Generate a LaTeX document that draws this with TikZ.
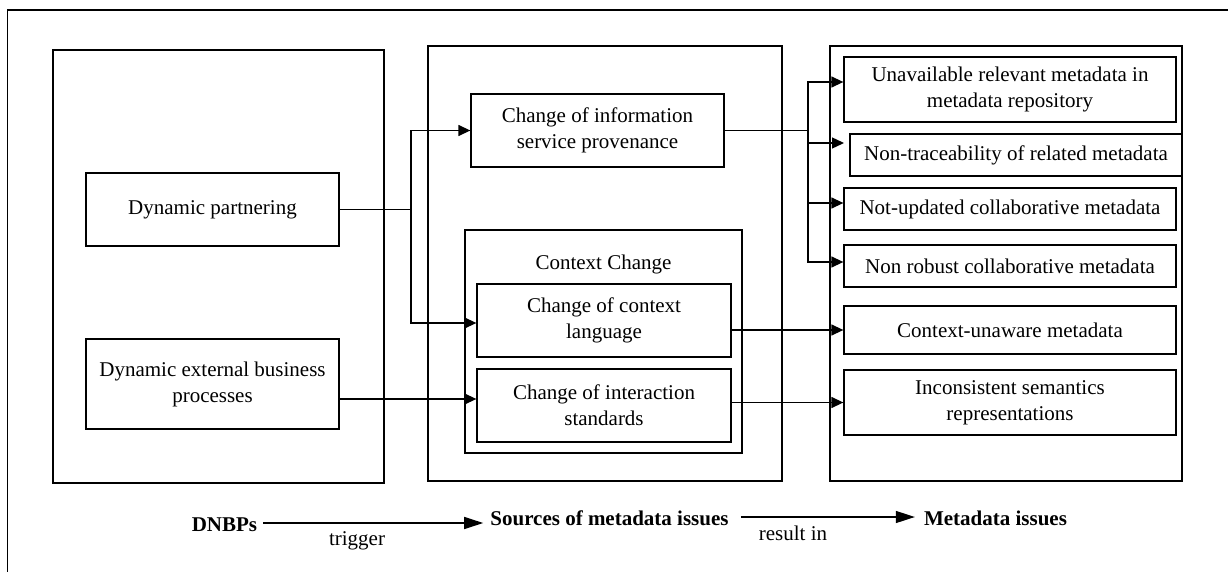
\documentclass[tikz,border=0pt]{standalone}
\usepackage{fontspec}
\setmainfont{Liberation Serif}
\usetikzlibrary{arrows.meta}
\tikzset{
  lbl/.style={font=\fontsize{21}{26}\selectfont, inner sep=0pt},
  box/.style={lbl, draw, line width=1.3pt, align=center, anchor=center},
  panel/.style={draw, line width=1.3pt, inner sep=0pt, anchor=center},
  wire/.style={line width=1.3pt},
  arr/.style={wire, -{Triangle[length=12pt,width=11pt]}},
  arrL/.style={wire, -{Triangle[length=19pt,width=12pt]}},
  key/.style={lbl, font=\fontsize{21}{26}\selectfont\bfseries, anchor=base},
  verb/.style={lbl, anchor=base}
}
\begin{document}
\begin{tikzpicture}[x=1pt,y=-1pt]
\useasboundingbox (0,0) rectangle (1228,572);

% enclosing frame (left and top edges)
\draw[wire] (7.5,572) -- (7.5,10) -- (1228,10);

% three columns
\node[panel, minimum width=331pt, minimum height=433pt] (pl) at (218.5,266.5) {};
\node[panel, minimum width=354pt, minimum height=435pt] (pm) at (605,263.5) {};
\node[panel, minimum width=352pt, minimum height=435pt] (pr) at (1006,263.5) {};

% DNBPs
\node[box, minimum width=253pt, minimum height=73pt] (dp) at (212.5,209.5) {Dynamic partnering};
\node[box, minimum width=253pt, minimum height=90pt] (ext) at (212.5,384) {Dynamic external business\\processes};

% sources of metadata issues
\node[box, minimum width=253pt, minimum height=73pt] (info) at (597.5,130.5) {Change of information\\service provenance};
\node[panel, minimum width=277pt, minimum height=223pt] (ctx) at (603.5,341.5) {};
\node[verb] (ctxl) at (603.5,269) {Context Change};
\node[box, minimum width=254pt, minimum height=73pt] (lang) at (604,320.5) {Change of context\\language};
\node[box, minimum width=254pt, minimum height=73pt] (inter) at (604,405.5) {Change of interaction\\standards};

% metadata issues
\node[box, minimum width=332pt, minimum height=65pt] (uv) at (1010,89.5) {Unavailable relevant metadata in\\metadata repository};
\node[box, minimum width=332pt, minimum height=42pt] (nt) at (1016,155) {Non-traceability of related metadata};
\node[box, minimum width=332pt, minimum height=42pt] (nu) at (1010,209) {Not-updated collaborative metadata};
\node[box, minimum width=332pt, minimum height=42pt] (nr) at (1010,266) {Non robust collaborative metadata};
\node[box, minimum width=332pt, minimum height=48pt] (cu) at (1010,330) {Context-unaware metadata};
\node[box, minimum width=332pt, minimum height=65pt] (inc) at (1010,402.5) {Inconsistent semantics\\representations};

% triggers
\coordinate (j1) at (411,209.5);
\draw[wire] (dp.east) -- (j1);
\draw[arr] (j1) |- (info.west);
\draw[arr] (j1) |- ([yshift=-2.5pt]lang.west);
\coordinate (e1) at ([yshift=-15pt]ext.east);
\draw[arr] (e1) -- (e1 -| inter.west);

% results
\coordinate (j2) at (808,130.5);
\coordinate (ntin) at (844,143);
\draw[wire] (info.east) -- (j2);
\draw[arr] (j2) |- ([yshift=7.5pt]uv.west);
\draw[arr] (j2) |- (ntin);
\draw[arr] (j2) |- ([yshift=6pt]nu.west);
\draw[arr] (j2) |- ([yshift=4pt]nr.west);
\draw[arr] (cu.west -| lang.east) -- (cu.west);
\draw[arr] (inc.west -| inter.east) -- (inc.west);

% legend
\node[key] (dnbps) at (224.5,531) {DNBPs};
\node[key] (src) at (609.5,525) {Sources of metadata issues};
\node[key] (mi) at (995.5,525) {Metadata issues};
\coordinate (ly1) at (0,523);
\coordinate (ly2) at (0,517);
\draw[arrL, shorten <=6pt, shorten >=7pt] (dnbps.east |- ly1) -- (src.west |- ly1);
\draw[arrL, shorten <=12pt, shorten >=9pt] (src.east |- ly2) -- (mi.west |- ly2);
\node[verb] (trg) at (357,545) {trigger};
\node[verb] (res) at (793,540) {result in};
\end{tikzpicture}
\end{document}
